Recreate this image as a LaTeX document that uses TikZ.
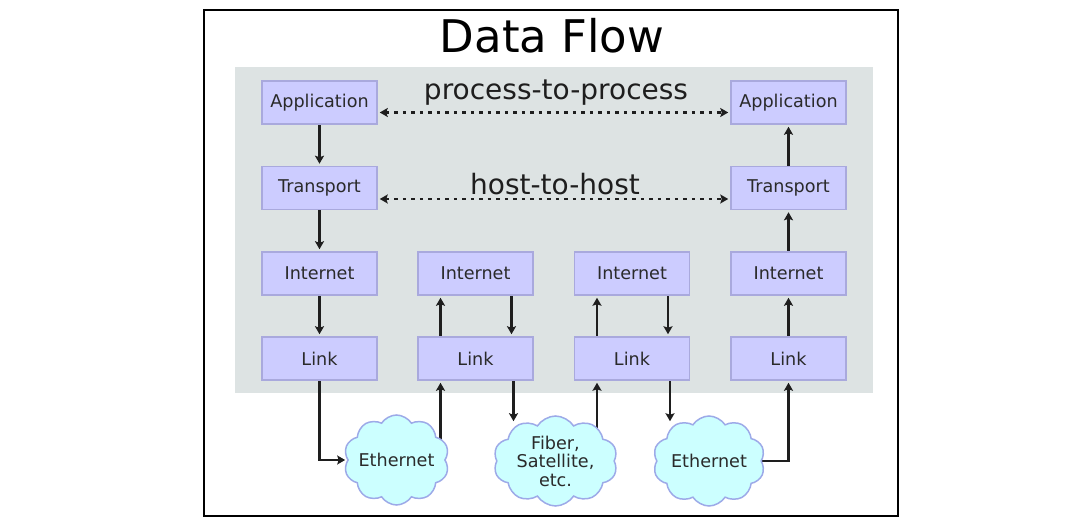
\documentclass[tikz,border=0pt]{standalone}
\usepackage{fontspec}
\setmainfont{DejaVu Sans}
\usetikzlibrary{arrows.meta,shapes.symbols,calc}
\pgfdeclarelayer{bg}
\pgfdeclarelayer{conn}
\pgfsetlayers{bg,conn,main}
\definecolor{panelgray}{HTML}{DDE3E3}
\definecolor{boxfill}{HTML}{CCCCFF}
\definecolor{boxline}{HTML}{A9A9DD}
\definecolor{cloudfill}{HTML}{CCFFFF}
\definecolor{cloudline}{HTML}{9DAAE8}
\definecolor{ink}{HTML}{1E1E1E}
\definecolor{txt}{HTML}{2A2A2A}
\begin{document}
\begin{tikzpicture}[x=1pt,y=-1pt,
 layerbox/.style={draw=boxline, fill=boxfill, line width=1.5pt, minimum width=115pt, minimum height=43pt, inner sep=0pt, text=txt, font=\fontsize{17.6}{19}\selectfont},
 netcloud/.style={cloud, cloud puffs=10, cloud puff arc=115, cloud ignores aspect, draw=cloudline, fill=cloudfill, line width=1.5pt, minimum height=90pt, inner sep=0pt, text=txt, align=center, font=\fontsize{17.6}{18.5}\selectfont},
 flow/.style={draw=ink, line width=2.2pt, shorten >=2pt, -{Stealth[length=8pt,width=9pt,inset=1.5pt]}},
 peer/.style={draw=ink, line width=2.4pt, dash pattern=on 3.5pt off 5pt, shorten >=2pt, shorten <=2pt, {Stealth[length=8pt,width=9pt,inset=1.5pt]}-{Stealth[length=8pt,width=9pt,inset=1.5pt]}},
 heading/.style={text=black, inner sep=0pt, anchor=base},
]
\begin{pgfonlayer}{bg}
\fill[white] (0,0) rectangle (1090,521);
\fill[panelgray] (235,67) rectangle (873,393);
\end{pgfonlayer}
\useasboundingbox (0,0) rectangle (1090,521);
\draw[line width=2pt] (204,10) rectangle (898,516);

\node[heading, font=\fontsize{45}{50}\selectfont] (title) at (552,53) {Data Flow};
\node[heading, text=ink, font=\fontsize{28}{32}\selectfont] (p2p) at (556,100) {process-to-process};
\node[heading, text=ink, font=\fontsize{28}{32}\selectfont] (h2h) at (555,195) {host-to-host};

% column 1
\node[layerbox] (a1) at (319.5,102.5) {Application};
\node[layerbox] (t1) at (319.5,188) {Transport};
\node[layerbox] (i1) at (319.5,273.5) {Internet};
\node[layerbox] (l1) at (319.5,358.5) {Link};
% column 2
\node[layerbox] (i2) at (475.5,273.5) {Internet};
\node[layerbox] (l2) at (475.5,358.5) {Link};
% column 3
\node[layerbox] (i3) at (632,273.5) {Internet};
\node[layerbox] (l3) at (632,358.5) {Link};
% column 4
\node[layerbox] (a4) at (788.5,102.5) {Application};
\node[layerbox] (t4) at (788.5,188) {Transport};
\node[layerbox] (i4) at (788.5,273.5) {Internet};
\node[layerbox] (l4) at (788.5,358.5) {Link};

% clouds
\node[netcloud, minimum width=103pt] (c1) at (396.5,460) {Ethernet};
\node[netcloud, minimum width=124pt] (c2) at (555.5,461) {Fiber,\\Satellite,\\etc.};
\node[netcloud, minimum width=112pt] (c3) at (709,461) {Ethernet};

\coordinate (i2w) at ($(i2.south)+(-35,0)$);
\coordinate (i2e) at ($(i2.south)+(36,0)$);
\coordinate (i3w) at ($(i3.south)+(-35,0)$);
\coordinate (i3e) at ($(i3.south)+(36,0)$);
\coordinate (l2w) at ($(l2.south)+(-35,0)$);
\coordinate (l2e) at ($(l2.south)+(38,0)$);
\coordinate (l3w) at ($(l3.south)+(-35,0)$);
\coordinate (l3e) at ($(l3.south)+(38,0)$);

\begin{pgfonlayer}{conn}
\draw[peer] ([yshift=-10pt]a1.east) -- ([yshift=-10pt]a4.west);
\draw[peer] ([yshift=-11pt]t1.east) -- ([yshift=-11pt]t4.west);

\draw[flow] (a1) -- (t1);
\draw[flow] (t1) -- (i1);
\draw[flow] (i1) -- (l1);
\draw[flow] (l4) -- (i4);
\draw[flow] (i4) -- (t4);
\draw[flow] (t4) -- (a4);

\draw[flow] (l2.north -| i2w) -- (i2w);
\draw[flow] (i2e) -- (l2.north -| i2e);
\draw[flow] (l3.north -| i3w) -- (i3w);
\draw[flow] (i3e) -- (l3.north -| i3e);

\draw[flow] (l1.south) |- (c1.west);
\draw[flow] (l2w |- c1.center) -- (l2w);
\draw[flow] (l2e) -- ($(l2e |- c2.north)+(0,8)$);
\draw[flow] (l3w |- c2.center) -- (l3w);
\draw[flow] (l3e) -- ($(l3e |- c3.north)+(0,8)$);
\draw[flow] (c3.east) -| (l4.south);
\end{pgfonlayer}
\end{tikzpicture}
\end{document}
